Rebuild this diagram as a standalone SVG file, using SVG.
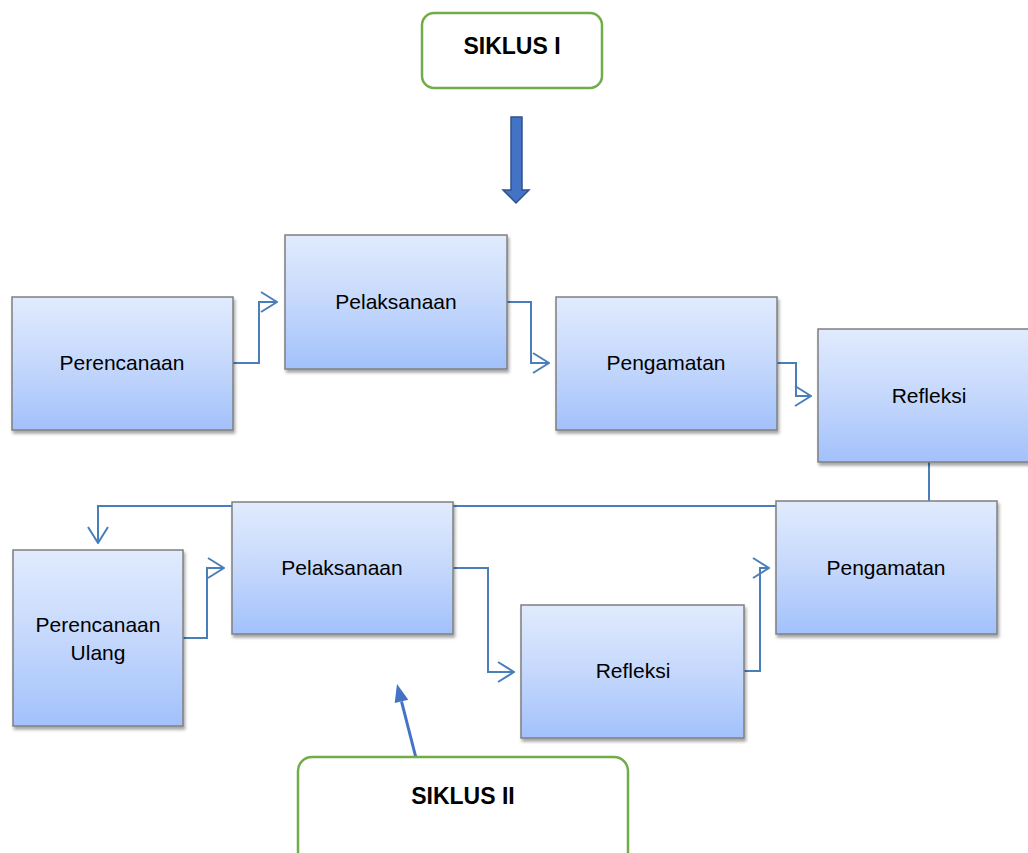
<svg xmlns="http://www.w3.org/2000/svg" width="1028" height="853" viewBox="0 0 1028 853">
<defs>
<linearGradient id="g" x1="0" y1="0" x2="0" y2="1">
<stop offset="0" stop-color="#e1ebfd"/>
<stop offset="0.5" stop-color="#c5d8fc"/>
<stop offset="1" stop-color="#a2c1fb"/>
</linearGradient>
<filter id="sh" x="-10%" y="-10%" width="125%" height="130%">
<feDropShadow dx="1.5" dy="3" stdDeviation="1.8" flood-color="#000" flood-opacity="0.35"/>
</filter>
<marker id="open" viewBox="0 0 18 22" refX="17" refY="11" markerWidth="18" markerHeight="22" markerUnits="userSpaceOnUse" orient="auto">
<path d="M1,1 L17,11 L1,21" fill="none" stroke="#4a7ebb" stroke-width="2"/>
</marker>
</defs>
<style>
.box{fill:url(#g);stroke:#7f7f7f;stroke-width:1.5;filter:url(#sh)}
.lbl{font-family:"Liberation Sans",Arial,sans-serif;font-size:21px;fill:#000;text-anchor:middle}
.cyc{fill:#fff;stroke:#70ad47;stroke-width:2.5}
.ct{font-family:"Liberation Sans",Arial,sans-serif;font-size:23px;font-weight:bold;fill:#000;text-anchor:middle}
.c{fill:none;stroke:#4a7ebb;stroke-width:2;marker-end:url(#open)}
</style>
<g id="connectors">
<path class="c" d="M233,363 H259 V302 H277"/>
<path class="c" d="M507,302 H531 V363 H549"/>
<path class="c" d="M777,363 H796 V396 H811"/>
<path class="c" d="M929,462 V506 H98 V543"/>
<path class="c" d="M183,638 H207 V568 H224"/>
<path class="c" d="M453,568 H488 V672 H514"/>
<path class="c" d="M744,671 H760 V568 H769"/>
<path d="M416,758 L401.5,701.4" stroke="#4472c4" stroke-width="3" fill="none"/>
<polygon points="397,684 408.3,699.7 394.7,703.1" fill="#4472c4"/>
<polygon points="511,117 522,117 522,190 529,190 516,203 503,190 511,190" fill="#4472c4" stroke="#2f528f" stroke-width="1.5"/>
</g>
<g id="siklus1">
<rect class="cyc" x="422" y="13" width="180" height="75" rx="12"/>
<text class="ct" x="512" y="54">SIKLUS I</text>
</g>
<g id="n1"><rect class="box" x="12" y="297" width="221" height="133"/><text class="lbl" x="122" y="370">Perencanaan</text></g>
<g id="n2"><rect class="box" x="285" y="235" width="222" height="134"/><text class="lbl" x="396" y="309">Pelaksanaan</text></g>
<g id="n3"><rect class="box" x="556" y="297" width="221" height="133"/><text class="lbl" x="666" y="370">Pengamatan</text></g>
<g id="n4"><rect class="box" x="818" y="329" width="220" height="133"/><text class="lbl" x="929" y="403">Refleksi</text></g>
<g id="n5"><rect class="box" x="13" y="550" width="170" height="176"/><text class="lbl" x="98" y="632">Perencanaan</text><text class="lbl" x="98" y="660">Ulang</text></g>
<g id="n6"><rect class="box" x="232" y="502" width="221" height="132"/><text class="lbl" x="342" y="575">Pelaksanaan</text></g>
<g id="n7"><rect class="box" x="521" y="605" width="223" height="133"/><text class="lbl" x="633" y="678">Refleksi</text></g>
<g id="n8"><rect class="box" x="776" y="501" width="221" height="133"/><text class="lbl" x="886" y="575">Pengamatan</text></g>
<g id="siklus2">
<rect class="cyc" x="298" y="757" width="330" height="115" rx="14"/>
<text class="ct" x="463" y="804">SIKLUS II</text>
</g>
</svg>
